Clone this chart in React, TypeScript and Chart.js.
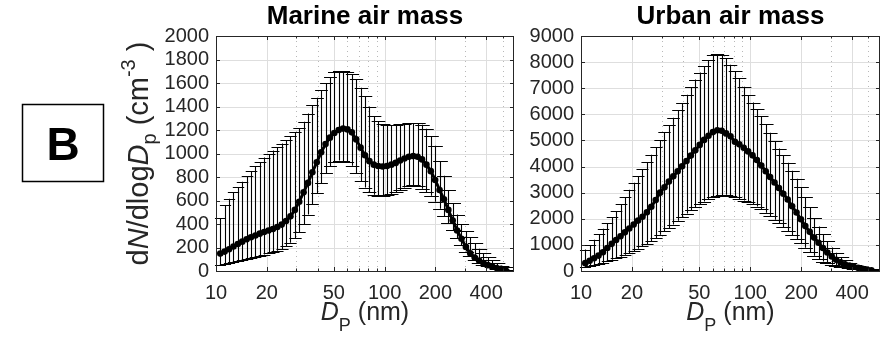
import React, { useEffect, useRef } from "react";
import { Chart, registerables } from "chart.js";
Chart.register(...registerables);

// Particle diameters (nm)
const diameters = [
  10.6, 11.25, 11.95, 12.69, 13.47, 14.3, 15.19, 16.12, 17.12, 18.17,
  19.29, 20.48, 21.75, 23.09, 24.52, 26.03, 27.64, 29.34, 31.15, 33.07,
  35.12, 37.28, 39.58, 42.03, 44.62, 47.37, 50.3, 53.4, 56.69, 60.19,
  63.9, 67.85, 72.03, 76.48, 81.2, 86.21, 91.53, 97.2, 103.2, 109.6,
  116.3, 123.5, 131.1, 139.2, 147.8, 156.9, 166.6, 176.9, 187.8, 199.4,
  211.7, 224.8, 238.7, 253.4, 269.0, 285.6, 303.3, 322.0, 341.9, 363.0,
  385.4, 409.2, 434.5, 461.3, 489.8, 520.0,
];

// Marine air mass (cm^-3)
const marineMean = [
  148, 165, 185, 208, 230, 250, 270, 287, 302, 318,
  332, 345, 358, 375, 395, 425, 465, 520, 590, 670,
  750, 840, 925, 1010, 1080, 1135, 1175, 1200, 1212, 1205,
  1180, 1120, 1050, 985, 935, 905, 893, 890, 893, 905,
  920, 940, 958, 972, 978, 972, 950, 905, 850, 775,
  690, 610, 520, 430, 345, 275, 205, 150, 115, 90,
  68, 50, 37, 26, 18, 12,
];
const marineUpper = [
  450, 560, 615, 670, 715, 760, 805, 850, 890, 925,
  965, 995, 1025, 1055, 1085, 1115, 1150, 1180, 1215, 1270,
  1340, 1410, 1475, 1540, 1600, 1650, 1690, 1700, 1700, 1695,
  1675, 1630, 1560, 1490, 1400, 1320, 1275, 1248, 1240, 1240,
  1245, 1250, 1255, 1260, 1260, 1258, 1245, 1210, 1150, 1065,
  935, 810, 690, 575, 480, 400, 340, 290, 235, 190,
  150, 115, 90, 65, 45, 32,
];
const marineLower = [
  50, 58, 66, 75, 85, 95, 105, 113, 122, 130,
  140, 150, 160, 172, 188, 210, 240, 280, 330, 400,
  480, 570, 660, 750, 830, 890, 925, 940, 935, 925,
  895, 830, 765, 710, 670, 650, 642, 640, 645, 655,
  670, 690, 710, 725, 732, 725, 700, 670, 640, 590,
  530, 465, 405, 345, 280, 220, 165, 125, 95, 72,
  55, 40, 30, 20, 14, 10,
];

// Urban air mass (cm^-3)
const urbanMean = [
  300, 390, 490, 590, 720, 880, 1040, 1190, 1330, 1480,
  1630, 1780, 1930, 2080, 2250, 2460, 2720, 3000, 3210, 3430,
  3630, 3820, 4010, 4210, 4420, 4620, 4830, 5020, 5180, 5320,
  5390, 5370, 5270, 5160, 4950, 4850, 4720, 4580, 4430, 4250,
  4040, 3820, 3600, 3390, 3180, 2960, 2740, 2480, 2240, 1980,
  1720, 1500, 1280, 1080, 880, 710, 560, 430, 330, 260,
  205, 160, 120, 85, 55, 30,
];
const urbanUpper = [
  820, 1000, 1200, 1410, 1620, 1830, 2060, 2300, 2560, 2820,
  3110, 3380, 3640, 3900, 4160, 4450, 4740, 5020, 5310, 5590,
  5870, 6150, 6430, 6750, 7050, 7330, 7600, 7850, 8080, 8260,
  8300, 8290, 8150, 7900, 7650, 7380, 7060, 6730, 6450, 6200,
  5930, 5620, 5290, 4960, 4690, 4430, 4150, 3840, 3530, 3200,
  2830, 2450, 2020, 1700, 1410, 1140, 900, 700, 540, 410,
  300, 230, 175, 130, 90, 60,
];
const urbanLower = [
  140, 175, 215, 260, 310, 370, 430, 490, 550, 620,
  690, 770, 850, 940, 1030, 1140, 1260, 1390, 1520, 1650,
  1780, 1920, 2060, 2200, 2330, 2450, 2560, 2660, 2750, 2830,
  2880, 2910, 2920, 2880, 2820, 2760, 2700, 2630, 2560, 2470,
  2360, 2230, 2100, 1960, 1820, 1680, 1530, 1380, 1220, 1060,
  890, 730, 580, 460, 360, 290, 240, 200, 165, 135,
  115, 95, 75, 60, 45, 35,
];

const xTickValues = [10, 20, 50, 100, 200, 400];
const xMinorValues = [30, 40, 60, 70, 80, 90, 300, 500];
const marineYTicks = [0, 200, 400, 600, 800, 1000, 1200, 1400, 1600, 1800, 2000];
const urbanYTicks = [0, 1000, 2000, 3000, 4000, 5000, 6000, 7000, 8000, 9000];

const X_MIN = 10;
const X_MAX = 585;
const FONT = "'Liberation Sans', Arial, Helvetica, sans-serif";
const AXIS_COLOR = "#262626";

type Part = { text: string; italic?: boolean; bold?: boolean; size: number; dy?: number };

function fontOf(p: Part) {
  return `${p.italic ? "italic " : ""}${p.bold ? "bold " : ""}${p.size}px ${FONT}`;
}

function drawRich(ctx: CanvasRenderingContext2D, parts: Part[], cx: number, y: number) {
  let total = 0;
  for (const p of parts) {
    ctx.font = fontOf(p);
    total += ctx.measureText(p.text).width;
  }
  let x = cx - total / 2;
  ctx.textAlign = "left";
  ctx.textBaseline = "alphabetic";
  for (const p of parts) {
    ctx.font = fontOf(p);
    ctx.fillText(p.text, x, y + (p.dy || 0));
    x += ctx.measureText(p.text).width;
  }
}

type PanelCfg = {
  left: number;
  width: number;
  area: { left: number; right: number; top: number; bottom: number };
  title: string;
  mean: number[];
  upper: number[];
  lower: number[];
  yTicks: number[];
  showYLabel: boolean;
};

function makePlugin(cfg: PanelCfg) {
  return {
    id: "panelDeco",
    beforeDatasetsDraw(chart: any) {
      const ctx: CanvasRenderingContext2D = chart.ctx;
      const { left, right, top, bottom } = chart.chartArea;
      const xs = chart.scales.x;
      const ys = chart.scales.y;
      ctx.save();
      // y grid
      ctx.strokeStyle = "#dedede";
      ctx.lineWidth = 1;
      for (const v of cfg.yTicks) {
        const y = Math.round(ys.getPixelForValue(v)) + 0.5;
        ctx.beginPath();
        ctx.moveTo(left, y);
        ctx.lineTo(right, y);
        ctx.stroke();
      }
      // x major grid
      for (const v of xTickValues) {
        const x = Math.round(xs.getPixelForValue(v)) + 0.5;
        ctx.beginPath();
        ctx.moveTo(x, top);
        ctx.lineTo(x, bottom);
        ctx.stroke();
      }
      // x minor grid (dotted)
      ctx.strokeStyle = "#b8b8b8";
      ctx.setLineDash([1, 4]);
      for (const v of xMinorValues) {
        const x = Math.round(xs.getPixelForValue(v)) + 0.5;
        ctx.beginPath();
        ctx.moveTo(x, top);
        ctx.lineTo(x, bottom);
        ctx.stroke();
      }
      ctx.setLineDash([]);

      // error bars
      ctx.strokeStyle = "#000";
      ctx.lineWidth = 1.1;
      for (let i = 0; i < diameters.length; i++) {
        const xp = Math.round(xs.getPixelForValue(diameters[i])) + 0.5;
        const yl = ys.getPixelForValue(cfg.lower[i]);
        const yu = ys.getPixelForValue(cfg.upper[i]);
        const frac = (xp - left) / (right - left);
        const hw = 5.5 + 2.5 * frac;
        ctx.beginPath();
        ctx.moveTo(xp, yl);
        ctx.lineTo(xp, yu);
        ctx.moveTo(xp - hw, Math.round(yl) + 0.5);
        ctx.lineTo(xp + hw, Math.round(yl) + 0.5);
        ctx.moveTo(xp - hw, Math.round(yu) + 0.5);
        ctx.lineTo(xp + hw, Math.round(yu) + 0.5);
        ctx.stroke();
      }
      ctx.restore();
    },
    afterDraw(chart: any) {
      const ctx: CanvasRenderingContext2D = chart.ctx;
      const { left, right, top, bottom } = chart.chartArea;
      const xs = chart.scales.x;
      const ys = chart.scales.y;
      ctx.save();
      // axes box
      ctx.strokeStyle = AXIS_COLOR;
      ctx.lineWidth = 1;
      ctx.strokeRect(left + 0.5, top + 0.5, right - left - 1, bottom - top);
      // inward ticks
      ctx.beginPath();
      for (const v of cfg.yTicks) {
        const y = Math.round(ys.getPixelForValue(v)) + 0.5;
        ctx.moveTo(left, y);
        ctx.lineTo(left + 4, y);
        ctx.moveTo(right, y);
        ctx.lineTo(right - 4, y);
      }
      for (const v of xTickValues) {
        const x = Math.round(xs.getPixelForValue(v)) + 0.5;
        ctx.moveTo(x, bottom);
        ctx.lineTo(x, bottom - 4);
        ctx.moveTo(x, top);
        ctx.lineTo(x, top + 4);
      }
      for (const v of xMinorValues) {
        const x = Math.round(xs.getPixelForValue(v)) + 0.5;
        ctx.moveTo(x, bottom);
        ctx.lineTo(x, bottom - 2.5);
        ctx.moveTo(x, top);
        ctx.lineTo(x, top + 2.5);
      }
      ctx.stroke();

      const cx = (left + right) / 2;
      // title
      ctx.fillStyle = "#000";
      drawRich(ctx, [{ text: cfg.title, bold: true, size: 26 }], cx, 24);
      // x axis title
      ctx.fillStyle = AXIS_COLOR;
      drawRich(
        ctx,
        [
          { text: "D", italic: true, size: 25 },
          { text: "P", size: 18, dy: 11 },
          { text: " (nm)", size: 25 },
        ],
        cx,
        320
      );

      if (cfg.showYLabel) {
        // panel letter box
        ctx.strokeStyle = "#000";
        ctx.lineWidth = 1.5;
        ctx.strokeRect(22.5, 104.5, 81, 77);
        ctx.fillStyle = "#000";
        drawRich(ctx, [{ text: "B", bold: true, size: 46 }], 63, 160);
        // y axis label (rotated)
        ctx.fillStyle = AXIS_COLOR;
        ctx.translate(148, (top + bottom) / 2);
        ctx.rotate(-Math.PI / 2);
        drawRich(
          ctx,
          [
            { text: "d", size: 29 },
            { text: "N", italic: true, size: 29 },
            { text: "/dlog", size: 29 },
            { text: "D", italic: true, size: 29 },
            { text: "p", size: 20, dy: 8 },
            { text: " (cm", size: 29 },
            { text: "-3", size: 20, dy: -13 },
            { text: " )", size: 29 },
          ],
          0,
          0
        );
      }
      ctx.restore();
    },
  };
}

function Panel({ cfg }: { cfg: PanelCfg }) {
  const ref = useRef<HTMLCanvasElement | null>(null);
  useEffect(() => {
    if (!ref.current) return;
    const H = 346;
    const tickFont = { family: FONT, size: 20 };
    const chart = new Chart(ref.current, {
      type: "line",
      data: {
        datasets: [
          {
            data: diameters.map((d, i) => ({ x: d, y: cfg.mean[i] })),
            borderColor: "#000",
            backgroundColor: "#000",
            borderWidth: 3,
            pointRadius: 3.3,
            pointBorderWidth: 0,
            pointBackgroundColor: "#000",
            tension: 0,
          },
        ],
      },
      options: {
        animation: false,
        responsive: false,
        maintainAspectRatio: false,
        layout: {
          padding: { left: 0, right: cfg.width - cfg.area.right, top: cfg.area.top, bottom: 0 },
        },
        plugins: {
          legend: { display: false },
          tooltip: { enabled: false },
          title: { display: false },
        },
        scales: {
          x: {
            type: "logarithmic",
            min: X_MIN,
            max: X_MAX,
            grid: { display: false, drawTicks: false },
            border: { display: false },
            afterBuildTicks: (s: any) => {
              s.ticks = xTickValues.map((v) => ({ value: v }));
            },
            afterFit: (s: any) => {
              s.height = H - cfg.area.bottom;
              s.paddingLeft = 0;
              s.paddingRight = 0;
            },
            ticks: {
              autoSkip: false,
              maxRotation: 0,
              minRotation: 0,
              padding: 10,
              font: tickFont,
              color: AXIS_COLOR,
              callback: (v: any) => String(v),
            },
          },
          y: {
            type: "linear",
            min: 0,
            max: cfg.yTicks[cfg.yTicks.length - 1],
            grid: { display: false, drawTicks: false },
            border: { display: false },
            afterBuildTicks: (s: any) => {
              s.ticks = cfg.yTicks.map((v) => ({ value: v }));
            },
            afterFit: (s: any) => {
              s.width = cfg.area.left;
              s.paddingTop = 0;
              s.paddingBottom = 0;
            },
            ticks: {
              autoSkip: false,
              padding: 7,
              font: tickFont,
              color: AXIS_COLOR,
              callback: (v: any) => String(v),
            },
          },
        },
      } as any,
      plugins: [makePlugin(cfg)],
    });
    return () => chart.destroy();
  }, [cfg]);
  return (
    <canvas
      ref={ref}
      width={cfg.width}
      height={346}
      style={{ position: "absolute", left: cfg.left, top: 0, width: cfg.width, height: 346 }}
    />
  );
}

const marineCfg: PanelCfg = {
  left: 0,
  width: 522,
  area: { left: 216, right: 514, top: 36, bottom: 271 },
  title: "Marine air mass",
  mean: marineMean,
  upper: marineUpper,
  lower: marineLower,
  yTicks: marineYTicks,
  showYLabel: true,
};

const urbanCfg: PanelCfg = {
  left: 522,
  width: 362,
  area: { left: 59, right: 358, top: 36, bottom: 271 },
  title: "Urban air mass",
  mean: urbanMean,
  upper: urbanUpper,
  lower: urbanLower,
  yTicks: urbanYTicks,
  showYLabel: false,
};

export default function App() {
  return (
    <div
      style={{
        position: "absolute",
        left: 0,
        top: 0,
        width: 884,
        height: 346,
        background: "#fff",
        overflow: "hidden",
      }}
    >
      <Panel cfg={marineCfg} />
      <Panel cfg={urbanCfg} />
    </div>
  );
}
